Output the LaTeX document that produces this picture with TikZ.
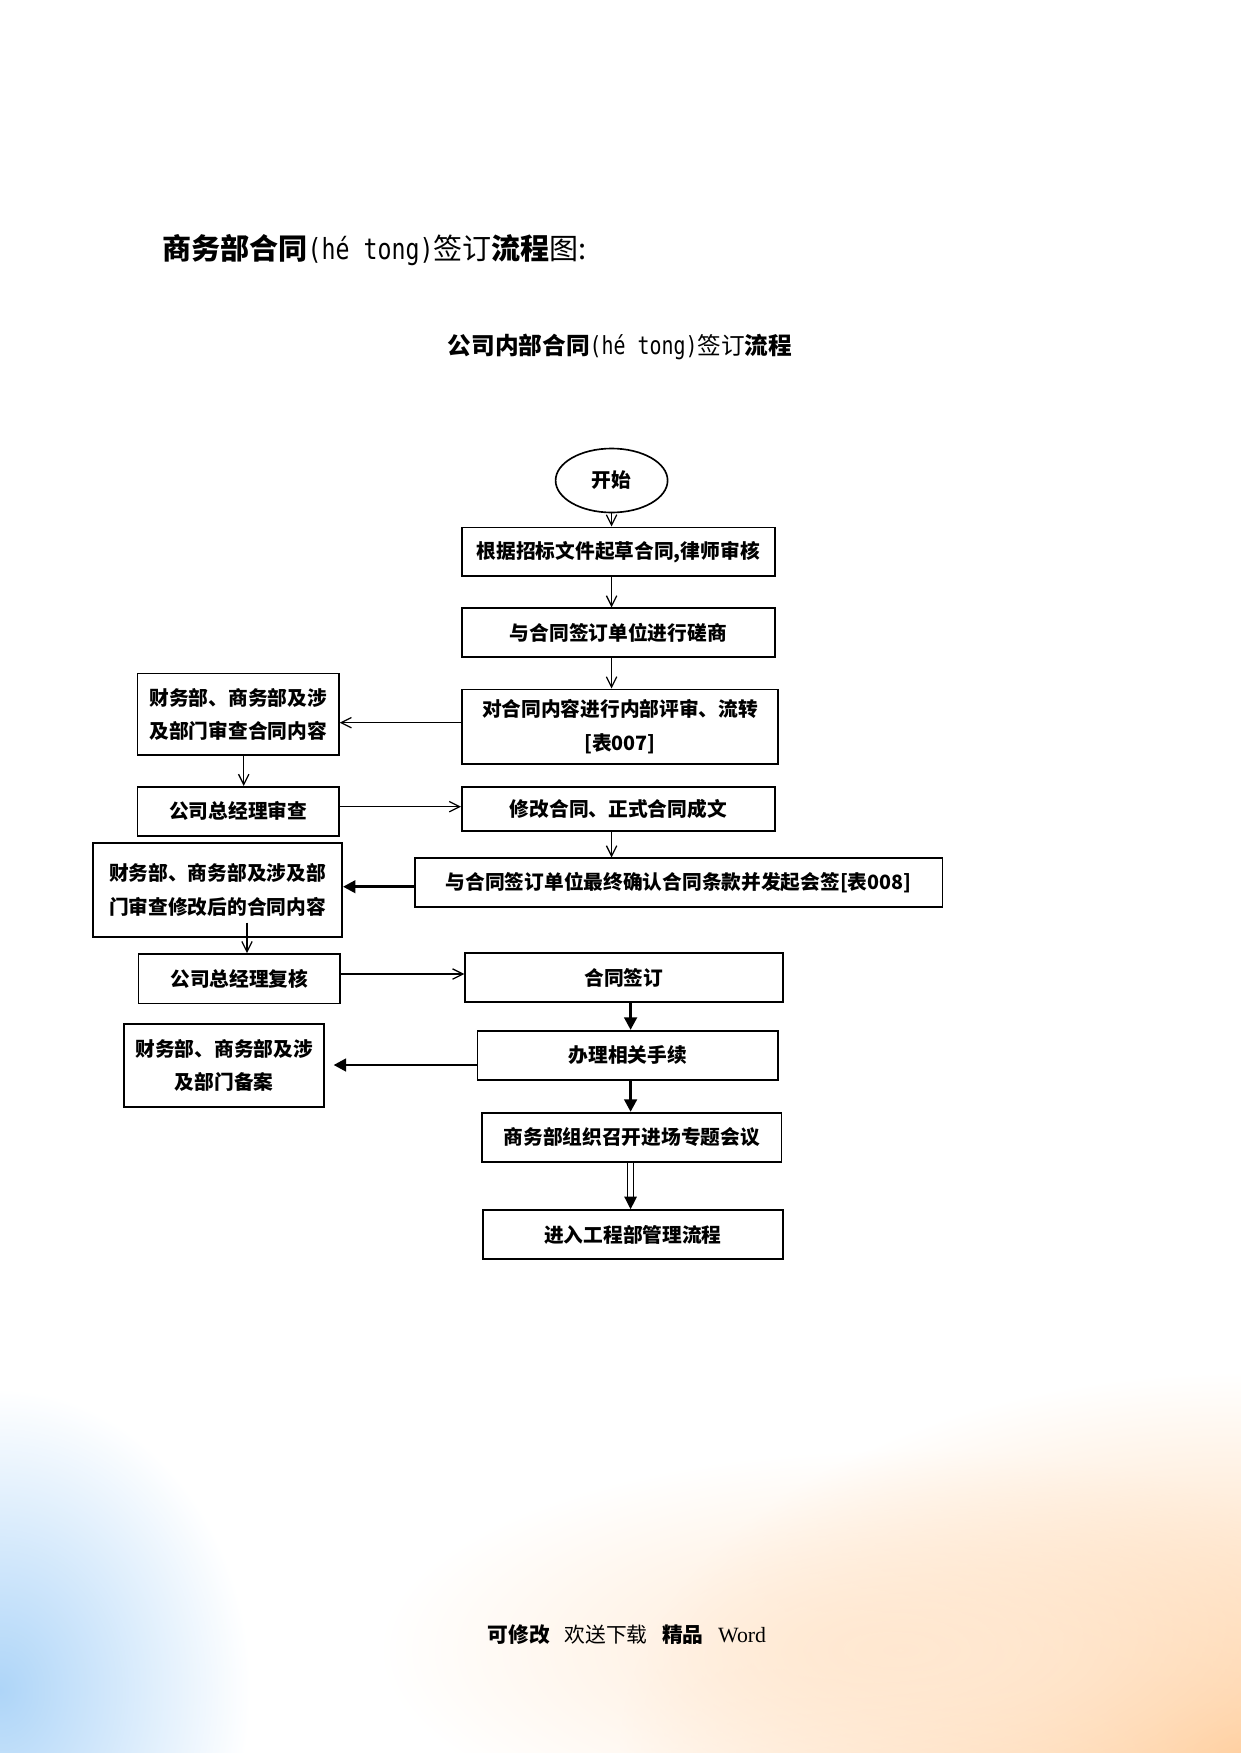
\documentclass[tikz,border=0pt]{standalone}
\usepackage{fontspec}
\setmainfont{Liberation Serif}
\newfontfamily\cjk{Noto Sans CJK SC}
\newfontfamily\monof[FakeStretch=0.8]{DejaVu Sans Mono}
\usetikzlibrary{arrows.meta,fadings,shapes.geometric}
\tikzfading[name=radfade, inner color=transparent!0, outer color=transparent!100]
\definecolor{skyb}{RGB}{140,195,245}
\newlength\px
\setlength\px{0.016933cm}
\begin{document}
\begin{tikzpicture}[x=0.016933cm, y=-0.016933cm,
  box/.style={draw, line width=0.8pt, rectangle, inner sep=0pt, align=center,
    font=\cjk\bfseries\fontsize{9.5}{16}\selectfont},
  thin/.style={line width=0.6pt, -{Straight Barb[length=5pt,width=5pt]}},
  thick/.style={line width=1.4pt, -{Triangle[length=6pt,width=6pt]}},
  dbl/.style={double, double distance=2.2pt, line width=0.6pt, -{Triangle[length=6pt,width=6pt]}}]
\useasboundingbox (0,0) rectangle (1240,1753);
% background tints
\fill[orange!40, path fading=radfade] (1240,1753) ellipse (620 and 380);
\fill[orange!18, path fading=radfade] (900,1650) ellipse (520 and 200);
\fill[skyb!70, path fading=radfade] (0,1690) ellipse (250 and 300);
% titles
\node[anchor=west, inner sep=0pt, font=\cjk\fontsize{14}{16}\selectfont] (t1) at (162,250)
  {\bfseries 商务部合同\mdseries{\monof\fontsize{14}{16}\selectfont(hé tong)}签订\bfseries 流程\mdseries 图:};
\node[inner sep=0pt, font=\cjk\fontsize{11.4}{14}\selectfont] (t2) at (620,346.6)
  {\bfseries 公司内部合同\mdseries{\monof\fontsize{12}{14}\selectfont(hé tong)}签订\bfseries 流程};
% nodes
\node[draw, ellipse, line width=0.8pt, minimum width=112*\px, minimum height=64*\px, inner sep=0pt,
  font=\cjk\bfseries\fontsize{9.5}{16}\selectfont] (e) at (611.6,480.5) {开始};
\node[box, minimum width=313*\px, minimum height=48.7*\px] (b1) at (618.3,551.7) {根据招标文件起草合同,律师审核};
\node[box, minimum width=313*\px, minimum height=49*\px] (b2) at (618.3,632.8) {与合同签订单位进行磋商};
\node[box, minimum width=316.4*\px, minimum height=74.7*\px] (b3) at (620,726.7) {对合同内容进行内部评审、流转\\{}[表007]};
\node[box, minimum width=201.3*\px, minimum height=81.7*\px] (l1) at (238.2,714.2) {财务部、商务部及涉\\及部门审查合同内容};
\node[box, minimum width=201.3*\px, minimum height=49.3*\px] (l2) at (238.2,811.4) {公司总经理审查};
\node[box, minimum width=313*\px, minimum height=44.3*\px] (r4) at (618.3,808.9) {修改合同、正式合同成文};
\node[box, minimum width=527.8*\px, minimum height=49*\px] (r5) at (678.7,882.8) {与合同签订单位最终确认合同条款并发起会签[表008]};
\node[box, minimum width=249.3*\px, minimum height=93.4*\px] (l3) at (217.5,890) {财务部、商务部及涉及部\\门审查修改后的合同内容};
\node[box, minimum width=201.3*\px, minimum height=49.3*\px] (l4) at (239.3,978.7) {公司总经理复核};
\node[box, minimum width=317.6*\px, minimum height=49.6*\px] (r6) at (623.9,977.5) {合同签订};
\node[box, minimum width=300.8*\px, minimum height=49.3*\px] (r7) at (627.8,1055.4) {办理相关手续};
\node[box, minimum width=200.1*\px, minimum height=82.7*\px] (l5) at (224.2,1065.4) {财务部、商务部及涉\\及部门备案};
\node[box, minimum width=299.7*\px, minimum height=49*\px] (r8) at (631.8,1137.2) {商务部组织召开进场专题会议};
\node[box, minimum width=299.7*\px, minimum height=49*\px] (r9) at (632.9,1234.5) {进入工程部管理流程};
% connectors
\draw[thin] (e.south) -- (e.south |- b1.north);
\draw[thin] ([xshift=-6.7*\px]b1.south) -- ([xshift=-6.7*\px]b1.south |- b2.north);
\draw[thin] ([xshift=-6.7*\px]b2.south) -- ([xshift=-6.7*\px]b2.south |- b3.north);
\draw[thin] ([yshift=4*\px]b3.west) -- ([yshift=4*\px]b3.west -| l1.east);
\draw[thin] ([xshift=5.5*\px]l1.south) -- ([xshift=5.5*\px]l1.south |- l2.north);
\draw[thin] ([yshift=4.7*\px]l2.east) -- ([yshift=4.7*\px]l2.east -| r4.west);
\draw[thin] ([xshift=-6.7*\px]r4.south) -- ([xshift=-6.7*\px]r4.south |- r5.north);
\draw[thick] ([yshift=-3.9*\px]r5.west) -- ([yshift=-3.9*\px]r5.west -| l3.east);
\draw[thin] ([xshift=29.5*\px,yshift=15*\px]l3.south) -- ([xshift=29.5*\px]l3.south |- l4.north);
\draw[thin] ([yshift=4.7*\px]l4.east) -- ([yshift=4.7*\px]l4.east -| r6.west);
\draw[thick] ([xshift=6.7*\px]r6.south) -- ([xshift=6.7*\px]r6.south |- r7.north);
\draw[thick, shorten >=8.5*\px] ([yshift=-9.6*\px]r7.west) -- ([yshift=-9.6*\px]r7.west -| l5.east);
\draw[thick] ([xshift=2.8*\px]r7.south) -- ([xshift=2.8*\px]r7.south |- r8.north);
\draw[dbl] ([xshift=-1.2*\px]r8.south) -- ([xshift=-1.2*\px]r8.south |- r9.north);
% footer
\node[inner sep=0pt] (ft) at (627,1635)
  {{\cjk\bfseries\fontsize{10}{12}\selectfont 可修改}\hspace{0.7em}{\cjk\fontsize{10}{12}\selectfont 欢送下载}\hspace{0.7em}{\cjk\bfseries\fontsize{10}{12}\selectfont 精品}\hspace{0.7em}{\fontsize{10.5}{12}\selectfont Word}};
\end{tikzpicture}
\end{document}
